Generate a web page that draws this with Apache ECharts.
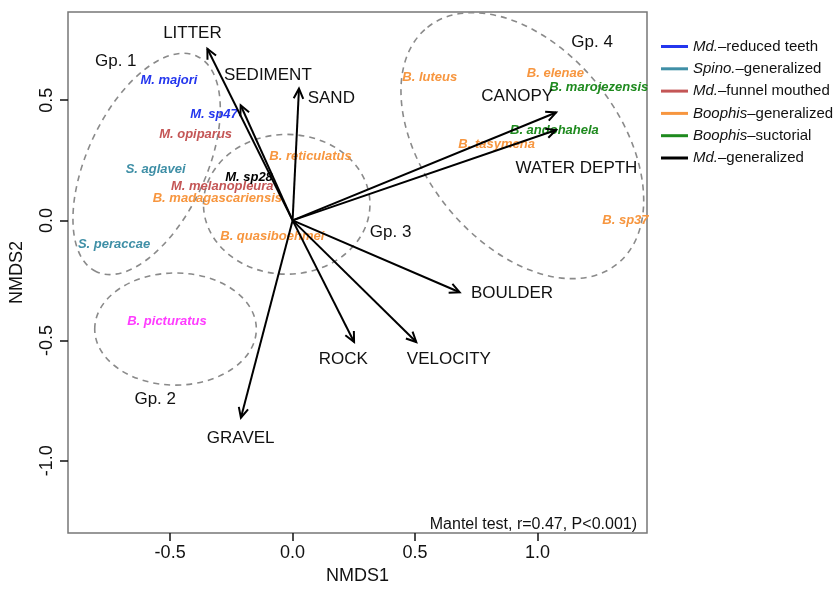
<!DOCTYPE html>
<html>
<head>
<meta charset="utf-8">
<script src="https://cdn.jsdelivr.net/npm/echarts@6/dist/echarts.min.js"></script>
<style>
  html, body { margin: 0; padding: 0; background: #fff; }
  #chart { width: 833px; height: 590px; }
</style>
</head>
<body>
<div id="chart"></div>
<script>
// environmental vectors (arrow tips) and where their names sit
var envNames = ['LITTER', 'SEDIMENT', 'SAND', 'CANOPY', 'WATER DEPTH', 'BOULDER', 'ROCK', 'VELOCITY', 'GRAVEL']
var envX = [-0.348, -0.212, 0.026, 1.076, 1.076, 0.682, 0.251, 0.505, -0.211]
var envY = [0.714, 0.479, 0.548, 0.449, 0.376, -0.299, -0.506, -0.506, -0.821]
var envLabelX = [-0.409, -0.101, 0.158, 0.917, 1.159, 0.896, 0.207, 0.638, -0.212]
var envLabelY = [0.780, 0.603, 0.507, 0.515, 0.217, -0.304, -0.580, -0.580, -0.907]

// species scores, guild index (-1 = not in legend)
var speciesNames = ['M. majori', 'M. sp47', 'M. opiparus', 'S. aglavei', 'M. sp28', 'M. melanopleura',
  'B. madagascariensis', 'B. reticulatus', 'B. quasiboehmei', 'S. peraccae', 'B. picturatus',
  'B. luteus', 'B. elenae', 'B. marojezensis', 'B. andohahela', 'B. tasymena', 'B. sp37']
var speciesX = [-0.505, -0.321, -0.396, -0.559, -0.178, -0.287, -0.307, 0.073, -0.083, -0.729, -0.513,
  0.560, 1.073, 1.250, 1.069, 0.833, 1.359]
var speciesY = [0.583, 0.439, 0.359, 0.214, 0.180, 0.142, 0.093, 0.267, -0.066, -0.099, -0.421,
  0.596, 0.612, 0.552, 0.376, 0.315, 0.000]
var speciesGuild = [0, 0, 2, 1, 5, 2, 3, 3, 3, 1, -1, 3, 3, 4, 4, 3, 3]

var guildNames = ['Md.–reduced teeth', 'Spino.–generalized', 'Md.–funnel mouthed',
  'Boophis–generalized', 'Boophis–suctorial', 'Md.–generalized']
var guildColors = ['#2436ee', '#3f8fa6', '#c45656', '#f7963f', '#1e8a1e', '#000000']

// dashed group ellipses: centre, semi-axes, rotation (deg)
var groupNames = ['Gp. 1', 'Gp. 2', 'Gp. 3', 'Gp. 4']
var groupLabelX = [-0.722, -0.561, 0.400, 1.223]
var groupLabelY = [0.663, -0.745, -0.051, 0.741]
var ellipseCX = [-0.596, -0.478, -0.024, 0.938]
var ellipseCY = [0.235, -0.452, 0.067, 0.311]
var ellipseA = [0.490, 0.333, 0.343, 0.625]
var ellipseB = [0.245, 0.231, 0.288, 0.400]
var ellipseAngle = [65, 0, 0, -51.3]

var xTicks = [-0.5, 0, 0.5, 1.0]
var yTicks = [-1.0, -0.5, 0, 0.5]

var FONT = '"Liberation Sans", Arial, Helvetica, sans-serif'

var chart = echarts.init(document.getElementById('chart'))

function textItem(size, color, italic, bold) {
  return function (params, api) {
    var p = api.coord([api.value(0), api.value(1)])
    return {
      type: 'text',
      x: p[0],
      y: p[1],
      style: {
        text: api.value(2),
        fill: color,
        fontSize: size,
        fontFamily: FONT,
        fontStyle: italic ? 'italic' : 'normal',
        fontWeight: bold ? 'bold' : 'normal',
        align: 'center',
        verticalAlign: 'middle'
      }
    }
  }
}

var series = []

// ellipses
series.push({
  type: 'custom',
  name: 'groups',
  silent: true,
  data: ellipseCX.map(function (cx, i) { return [cx, ellipseCY[i], ellipseA[i], ellipseB[i], ellipseAngle[i]] }),
  renderItem: function (params, api) {
    var c = api.coord([api.value(0), api.value(1)])
    var sa = api.size([api.value(2), api.value(2)])
    var sb = api.size([api.value(3), api.value(3)])
    return {
      type: 'ellipse',
      x: c[0],
      y: c[1],
      rotation: api.value(4) * Math.PI / 180,
      shape: { cx: 0, cy: 0, rx: (sa[0] + sa[1]) / 2, ry: (sb[0] + sb[1]) / 2 },
      style: { fill: 'none', stroke: '#8a8a8a', lineWidth: 1.6, lineDash: [6, 5] }
    }
  }
})

// group names
series.push({
  type: 'custom',
  name: 'group labels',
  silent: true,
  data: groupNames.map(function (n, i) { return [groupLabelX[i], groupLabelY[i], n] }),
  renderItem: textItem(17, '#111', false, false)
})

// species, one series per guild so the legend picks them up
guildNames.forEach(function (g, gi) {
  var d = []
  speciesNames.forEach(function (n, i) {
    if (speciesGuild[i] === gi) d.push([speciesX[i], speciesY[i], n])
  })
  series.push({
    type: 'custom',
    name: g,
    itemStyle: { color: guildColors[gi] },
    data: d,
    renderItem: textItem(13, guildColors[gi], true, true)
  })
})
var other = []
speciesNames.forEach(function (n, i) {
  if (speciesGuild[i] === -1) other.push([speciesX[i], speciesY[i], n])
})
series.push({
  type: 'custom',
  name: 'other',
  data: other,
  renderItem: textItem(13, '#ff3cff', true, true)
})

// arrows from the origin
series.push({
  type: 'custom',
  name: 'vectors',
  silent: true,
  data: envX.map(function (x, i) { return [x, envY[i]] }),
  renderItem: function (params, api) {
    var o = api.coord([0, 0])
    var e = api.coord([api.value(0), api.value(1)])
    var ang = Math.atan2(e[1] - o[1], e[0] - o[0])
    var L = 11, w = Math.PI / 7
    var head = [
      [e[0] - L * Math.cos(ang - w), e[1] - L * Math.sin(ang - w)],
      [e[0], e[1]],
      [e[0] - L * Math.cos(ang + w), e[1] - L * Math.sin(ang + w)]
    ]
    var st = { stroke: '#000', lineWidth: 2, fill: 'none' }
    return {
      type: 'group',
      children: [
        { type: 'line', shape: { x1: o[0], y1: o[1], x2: e[0], y2: e[1] }, style: st },
        { type: 'polyline', shape: { points: head }, style: st }
      ]
    }
  }
})

// vector names
series.push({
  type: 'custom',
  name: 'vector labels',
  silent: true,
  data: envNames.map(function (n, i) { return [envLabelX[i], envLabelY[i], n] }),
  renderItem: textItem(17, '#111', false, false)
})

var option = {
  animation: false,
  backgroundColor: '#fff',
  title: {
    text: 'Mantel test, r=0.47, P<0.001)',
    right: 191,
    top: 512,
    textStyle: { fontFamily: FONT, fontSize: 16, fontWeight: 'normal', color: '#111' }
  },
  legend: {
    data: guildNames,
    orient: 'vertical',
    left: 656,
    top: 34,
    icon: 'rect',
    itemWidth: 27,
    itemHeight: 3,
    itemGap: 7.3,
    selectedMode: false,
    textStyle: {
      fontFamily: FONT,
      fontSize: 15,
      color: '#111',
      lineHeight: 14,
      rich: {
        i: { fontFamily: FONT, fontSize: 15, fontStyle: 'italic', color: '#111' }
      }
    },
    formatter: function (name) {
      var k = name.indexOf('–')
      return '{i|' + name.slice(0, k) + '}' + name.slice(k)
    }
  },
  grid: {
    left: 68,
    right: 186,
    top: 12,
    bottom: 54,
    show: true,
    borderColor: '#777',
    borderWidth: 1.5
  },
  xAxis: {
    type: 'value',
    min: -0.917,
    max: 1.447,
    name: 'NMDS1',
    nameLocation: 'middle',
    nameGap: 33,
    nameTextStyle: { fontFamily: FONT, fontSize: 18, color: '#111' },
    axisLine: { show: false, onZero: false },
    splitLine: { show: false },
    axisTick: { show: true, length: 8, customValues: xTicks, lineStyle: { color: '#111', width: 1.5 } },
    axisLabel: {
      customValues: xTicks,
      margin: 11,
      fontFamily: FONT,
      fontSize: 18,
      color: '#111',
      formatter: function (v) { return v.toFixed(1) }
    }
  },
  yAxis: {
    type: 'value',
    min: -1.301,
    max: 0.867,
    name: 'NMDS2',
    nameLocation: 'middle',
    nameGap: 42,
    nameTextStyle: { fontFamily: FONT, fontSize: 18, color: '#111' },
    axisLine: { show: false, onZero: false },
    splitLine: { show: false },
    axisTick: { show: true, length: 8, customValues: yTicks, lineStyle: { color: '#111', width: 1.5 } },
    axisLabel: {
      customValues: yTicks,
      rotate: 90,
      margin: 12,
      fontFamily: FONT,
      fontSize: 18,
      color: '#111',
      formatter: function (v) { return v.toFixed(1) }
    }
  },
  series: series
}

chart.setOption(option)
</script>
</body>
</html>
